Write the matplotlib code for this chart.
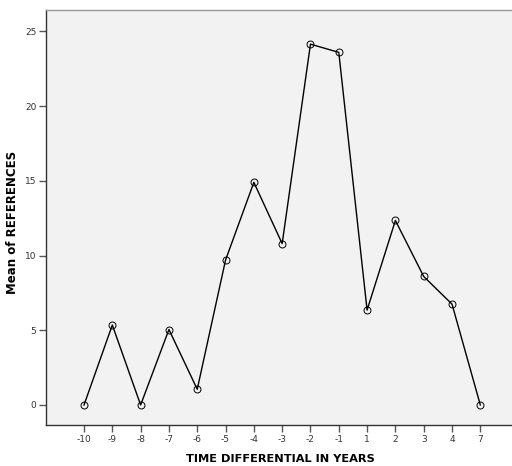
import numpy as np
import matplotlib.pyplot as plt

# categories on x axis (years)
years = ["-10", "-9", "-8", "-7", "-6", "-5", "-4", "-3", "-2", "-1", "1", "2", "3", "4", "7"]
means = [0.0, 5.35, 0.0, 5.05, 1.05, 9.7, 14.9, 10.8, 24.15, 23.6, 6.35, 12.35, 8.6, 6.75, 0.0]

pos = np.arange(len(years))

fig = plt.figure(figsize=(5.12, 4.66), dpi=100)
ax = fig.add_axes([0.09, 0.088, 0.92, 0.891])
ax.set_facecolor("#f2f2f2")

ax.plot(pos, means, color="black", lw=1.0, marker="o", markersize=5,
        markerfacecolor="none", markeredgecolor="black", markeredgewidth=0.7)

ax.set_xlim(-1.34, 15.3)
ax.set_ylim(-1.34, 26.45)
ax.set_xticks(pos)
ax.set_xticklabels(years)
ax.set_yticks([0, 5, 10, 15, 20, 25])

ax.tick_params(axis="both", direction="out", length=5, width=1, color="#555555",
               labelsize=6.5, labelcolor="#333333", pad=2)

for s in ["left", "bottom"]:
    ax.spines[s].set_color("#333333")
    ax.spines[s].set_linewidth(1)
ax.spines["top"].set_color("#999999")
ax.spines["top"].set_linewidth(1)
ax.spines["right"].set_visible(False)

# axis titles placed like the SPSS output
fig.text(280 / 512, 1 - 459 / 466, "TIME DIFFERENTIAL IN YEARS", fontsize=8.2,
         fontweight="bold", ha="center", va="center")
fig.text(13 / 512, 1 - 222 / 466, "Mean of REFERENCES", fontsize=8.5,
         fontweight="bold", ha="center", va="center", rotation=90)

fig.savefig("out.png", dpi=100)
